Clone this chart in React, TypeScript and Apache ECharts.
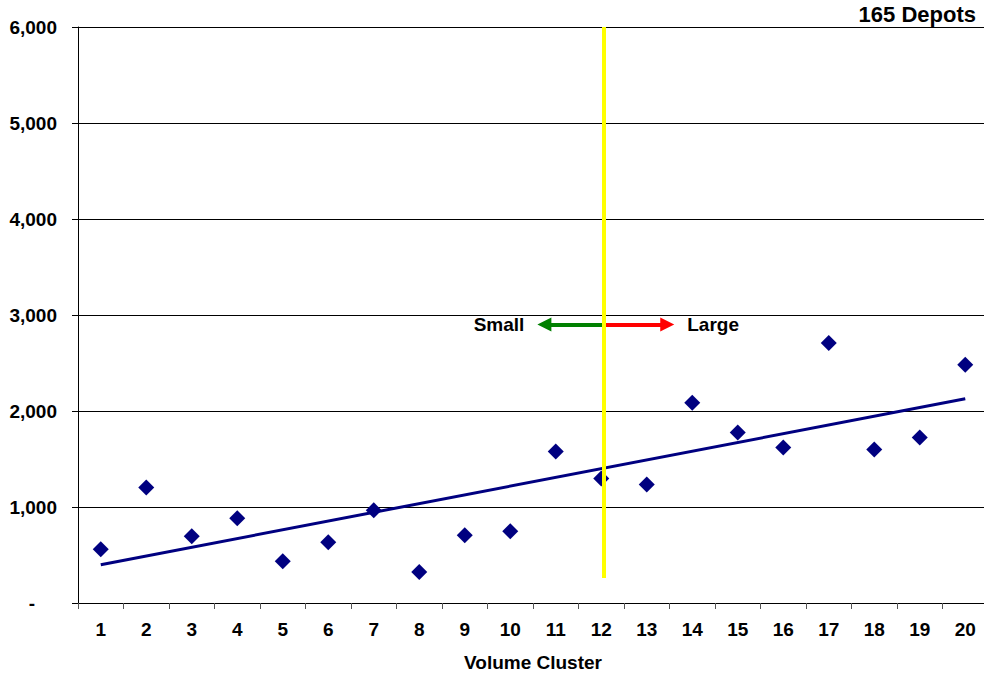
import React, { useEffect, useRef } from "react";
import * as echarts from "echarts";

// Volume clusters 1..20 and the value plotted for each cluster
const clusters: string[] = [
  "1", "2", "3", "4", "5", "6", "7", "8", "9", "10",
  "11", "12", "13", "14", "15", "16", "17", "18", "19", "20",
];
const clusterValues: number[] = [
  560, 1204, 695, 882, 436, 633, 965, 322, 706, 747,
  1578, 1298, 1235, 2087, 1775, 1619, 2709, 1599, 1723, 2481,
];

// Y-axis ticks
const yTicks: number[] = [0, 1000, 2000, 3000, 4000, 5000, 6000];

// Small / large split and annotation levels
const dividerCluster = 12.06;
const dividerTop = 6000;
const dividerBottom = 260;
const arrowLevel = 2900;
const smallArrowEnd = 10.75;
const largeArrowEnd = 13.45;

const FONT = "'Liberation Sans', Arial, Helvetica, sans-serif";
const NAVY = "#000080";

// Least-squares trend line through the cluster values
function trend(xs: number[], ys: number[]) {
  const n = xs.length;
  const mx = xs.reduce((a, b) => a + b, 0) / n;
  const my = ys.reduce((a, b) => a + b, 0) / n;
  let sxy = 0;
  let sxx = 0;
  for (let i = 0; i < n; i++) {
    sxy += (xs[i] - mx) * (ys[i] - my);
    sxx += (xs[i] - mx) * (xs[i] - mx);
  }
  const slope = sxy / sxx;
  const icpt = my - slope * mx;
  return (x: number) => icpt + slope * x;
}

export default function App() {
  const ref = useRef<HTMLDivElement>(null);

  useEffect(() => {
    if (!ref.current) return;
    const chart = echarts.init(ref.current, undefined, { renderer: "svg" });

    const xs = clusters.map((_, i) => i + 1);
    const fit = trend(xs, clusterValues);
    const first = xs[0];
    const last = xs[xs.length - 1];

    const labelStyle = {
      fontFamily: FONT,
      fontWeight: "bold" as const,
      fontSize: 19,
      color: "#000",
    };

    chart.setOption({
      animation: false,
      backgroundColor: "#fff",
      title: {
        text: "165 Depots",
        right: 12,
        top: 3,
        padding: 0,
        textStyle: {
          fontFamily: FONT,
          fontWeight: "bold",
          fontSize: 22,
          color: "#000",
        },
      },
      grid: { left: 78, right: 0, top: 27, bottom: 72 },
      xAxis: [
        {
          type: "category",
          data: clusters,
          boundaryGap: true,
          name: "Volume Cluster",
          nameLocation: "middle",
          nameGap: 50,
          nameTextStyle: { ...labelStyle },
          axisLine: { show: true, lineStyle: { color: "#000", width: 1 } },
          axisTick: { show: true, length: 6, alignWithLabel: false, lineStyle: { color: "#555" } },
          axisLabel: { ...labelStyle, margin: 17, interval: 0 },
          splitLine: { show: false },
        },
        {
          type: "value",
          min: 0.5,
          max: 20.5,
          show: false,
        },
      ],
      yAxis: {
        type: "value",
        min: yTicks[0],
        max: yTicks[yTicks.length - 1],
        interval: 1000,
        axisLine: { show: true, lineStyle: { color: "#000", width: 1 } },
        axisTick: { show: true, length: 6, lineStyle: { color: "#000" } },
        axisLabel: {
          ...labelStyle,
          margin: 21,
          formatter: (v: number) =>
            v === 0 ? "{dash|-}" : v.toLocaleString("en-US"),
          rich: {
            dash: { ...labelStyle, padding: [0, 22, 0, 0] },
          },
        },
        splitLine: { show: true, lineStyle: { color: "#000", width: 1 } },
      },
      series: [
        {
          name: "Trend",
          type: "line",
          xAxisIndex: 1,
          data: [
            [first, fit(first)],
            [last, fit(last)],
          ],
          showSymbol: false,
          symbol: "none",
          lineStyle: { color: NAVY, width: 3 },
          z: 2,
          silent: true,
          markLine: {
            silent: true,
            symbol: ["none", "triangle"],
            symbolSize: [14, 14],
            label: { show: true, position: "end", distance: 20, ...labelStyle },
            data: [
              [
                { coord: [dividerCluster, arrowLevel] },
                {
                  coord: [smallArrowEnd, arrowLevel],
                  lineStyle: { color: "#008000", width: 4, type: "solid" },
                  itemStyle: { color: "#008000" },
                  label: { formatter: "Small" },
                },
              ],
              [
                { coord: [dividerCluster, arrowLevel] },
                {
                  coord: [largeArrowEnd, arrowLevel],
                  lineStyle: { color: "#FF0000", width: 4, type: "solid" },
                  itemStyle: { color: "#FF0000" },
                  label: { formatter: "Large" },
                },
              ],
            ],
          },
        },
        {
          name: "Clusters",
          type: "scatter",
          xAxisIndex: 1,
          symbol: "diamond",
          symbolSize: 16,
          itemStyle: { color: NAVY, opacity: 1 },
          data: clusterValues.map((v, i) => [xs[i], v]),
          z: 3,
        },
        {
          name: "Divider",
          type: "line",
          xAxisIndex: 1,
          data: [],
          z: 5,
          markLine: {
            silent: true,
            symbol: ["none", "none"],
            label: { show: false },
            lineStyle: { color: "#FFFF00", width: 4, type: "solid" },
            data: [
              [
                { coord: [dividerCluster, dividerTop] },
                { coord: [dividerCluster, dividerBottom] },
              ],
            ],
            z: 10,
          },
        },
      ],
    });

    return () => chart.dispose();
  }, []);

  return (
    <div
      style={{
        position: "fixed",
        left: 0,
        top: 0,
        width: 984,
        height: 677,
        overflow: "hidden",
        background: "#fff",
      }}
    >
      <div ref={ref} style={{ width: 988, height: 677 }} />
    </div>
  );
}
